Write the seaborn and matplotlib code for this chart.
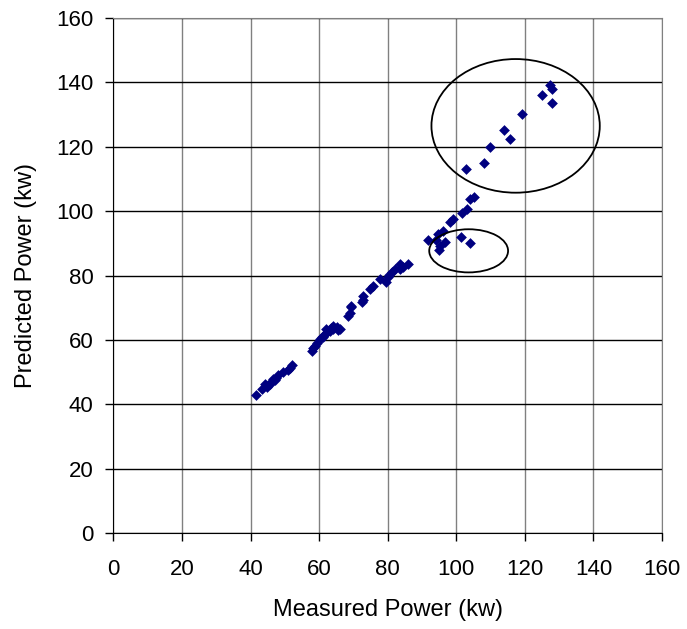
import matplotlib
matplotlib.use("Agg")
import matplotlib.pyplot as plt
from matplotlib.patches import Ellipse
import seaborn as sns
import pandas as pd

# measured vs predicted power (kw)
measured = [41.7, 43.2, 44.2, 44.8, 45.6, 46.0, 46.6, 47.2, 47.5, 48.0, 49.5, 51.0, 51.5, 52.0,
            57.8, 58.3, 58.7, 59.5, 60.2, 60.8, 61.2, 61.7, 62.2, 62.0, 63.1, 63.5, 64.1, 64.1, 65.1, 66.0, 65.5,
            68.5, 68.9, 69.4, 69.4, 72.4, 72.8, 72.8, 74.8, 75.7, 77.7, 79.6, 80.1, 81.1, 80.5, 82.0, 83.5, 83.5, 84.5, 85.9,
            91.8, 94.2, 94.7, 96.0, 96.6, 95.2, 95.0, 98.1, 99.1, 101.5, 103.9, 101.8, 103.0, 103.9, 105.1,
            102.8, 108.0, 109.8, 113.8, 115.6, 119.1, 124.9, 127.3, 127.9, 127.9]
predicted = [42.8, 44.9, 46.4, 45.5, 46.4, 47.0, 48.0, 47.5, 48.3, 49.0, 50.1, 50.6, 51.3, 52.1,
             56.7, 57.5, 58.3, 59.2, 60.4, 61.0, 60.9, 61.9, 62.5, 63.5, 62.9, 63.8, 63.5, 64.5, 64.0, 63.5, 63.0,
             67.6, 68.5, 70.2, 70.7, 71.7, 72.5, 73.8, 75.9, 76.9, 78.9, 77.9, 79.5, 81.0, 80.2, 82.0, 82.0, 83.6, 82.6, 83.6,
             91.0, 91.0, 92.9, 93.9, 90.5, 89.3, 88.1, 96.5, 97.5, 92.0, 90.1, 99.6, 100.6, 103.7, 104.5,
             113.2, 115.1, 119.9, 125.1, 122.5, 130.2, 136.2, 139.3, 137.8, 133.6]

df = pd.DataFrame({"Measured Power (kw)": measured, "Predicted Power (kw)": predicted})

sns.set_style("white")
plt.rcParams["font.family"] = ["Liberation Sans", "DejaVu Sans"]
plt.rcParams["text.color"] = "black"
plt.rcParams["axes.labelcolor"] = "black"
plt.rcParams["xtick.color"] = "black"
plt.rcParams["ytick.color"] = "black"

fig = plt.figure(figsize=(6.87, 6.29), dpi=100)
ax = fig.add_axes([0.1652, 0.1522, 0.7984, 0.8192])

sns.scatterplot(data=df, x="Measured Power (kw)", y="Predicted Power (kw)", ax=ax,
                marker="D", s=30, color="#000080", edgecolor="#000080", linewidth=0, zorder=3)

# circled regions
ax.add_patch(Ellipse((117.3, 126.5), 49.1, 41.5, fill=False, edgecolor="black", lw=1.3, zorder=4))
ax.add_patch(Ellipse((103.6, 87.7), 23.0, 13.4, fill=False, edgecolor="black", lw=1.3, zorder=4))

ax.set_xlim(0, 160)
ax.set_ylim(0, 160)
ax.set_xticks(range(0, 161, 20))
ax.set_yticks(range(0, 161, 20))
ax.grid(True, axis="y", color="black", lw=1)
ax.grid(True, axis="x", color="#808080", lw=1)
ax.set_axisbelow(True)

for side in ["top", "right"]:
    ax.spines[side].set_color("#808080")
for side in ["left", "bottom"]:
    ax.spines[side].set_color("black")
ax.tick_params(axis="both", which="major", direction="out", length=5.5, width=1,
               color="black", labelcolor="black", labelsize=16, bottom=True, left=True)
ax.tick_params(axis="x", pad=13)
ax.tick_params(axis="y", pad=9)
ax.set_xlabel("Measured Power (kw)", fontsize=17, labelpad=14)
ax.set_ylabel("Predicted Power (kw)", fontsize=17, labelpad=14)

fig.savefig("out.png", dpi=100)
